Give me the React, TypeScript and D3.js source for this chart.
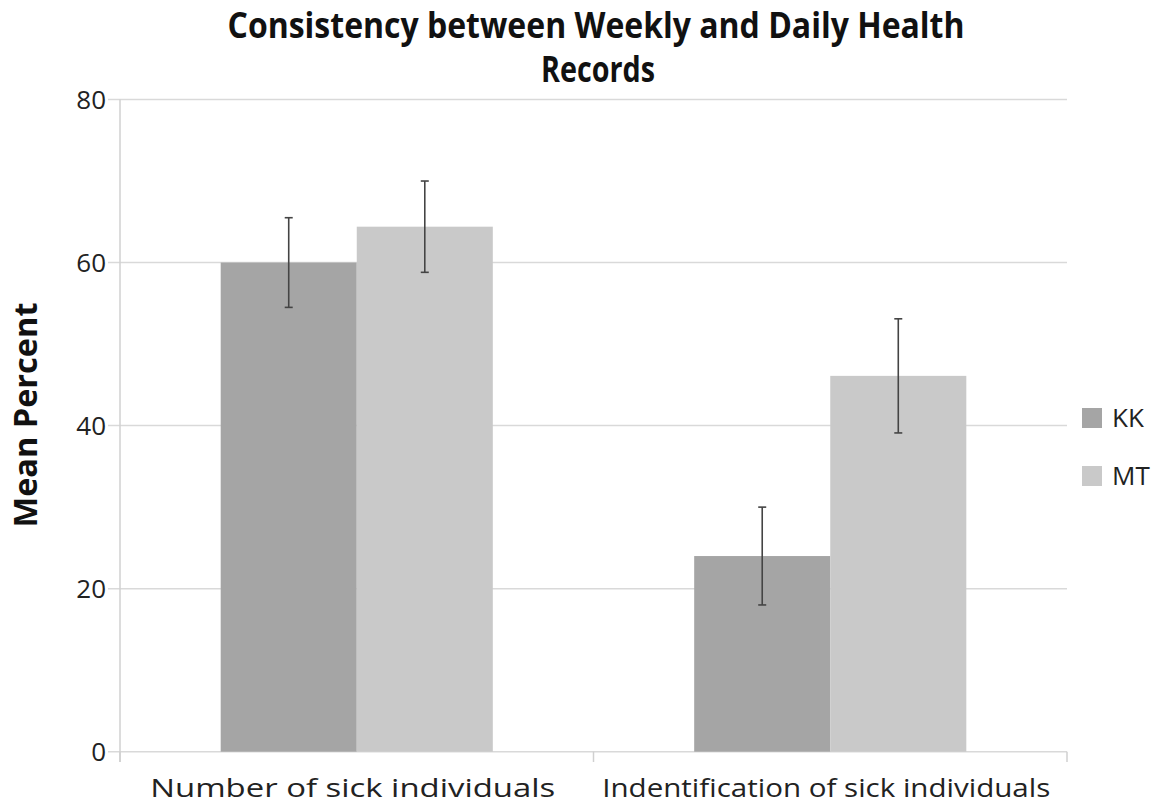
import React from "react";
import * as d3 from "d3";

const categories = ["Number of sick individuals", "Indentification of sick individuals"];
const seriesNames = ["KK", "MT"];
const kkValues = [60, 24];
const kkErrors = [5.5, 6.0];
const mtValues = [64.4, 46.1];
const mtErrors = [5.6, 7.0];
const yTicks = [0, 20, 40, 60, 80];
const titleLines = ["Consistency between Weekly and Daily Health", "Records"];
const yAxisTitle = "Mean Percent";

const colors: Record<string, string> = { KK: "#a5a5a5", MT: "#c9c9c9" };
const FONT = "'Open Sans', 'Noto Sans', sans-serif";

export default function App() {
  const W = 1175;
  const H = 812;
  const left = 120;
  const right = 1067;
  const top = 99.5;
  const bottom = 751.7;

  const y = d3.scaleLinear().domain([0, 80]).range([bottom, top]);
  const x0 = d3.scaleBand<string>().domain(categories).range([left, right]).padding(0);
  const x1 = d3
    .scaleBand<string>()
    .domain(seriesNames)
    .range([0, x0.bandwidth()])
    .paddingInner(0)
    .paddingOuter(0.74);

  const data = seriesNames.map((s) => ({
    name: s,
    values: s === "KK" ? kkValues : mtValues,
    errors: s === "KK" ? kkErrors : mtErrors,
  }));

  const labelWidths = [405, 448];

  return (
    <svg
      width={W}
      height={H}
      style={{ position: "absolute", left: 0, top: 0, background: "#fff" }}
      fontFamily={FONT}
    >
      <rect x={0} y={0} width={W} height={H} fill="#fff" />
      {/* gridlines */}
      {yTicks.map((t) => (
        <line key={"g" + t} x1={108} x2={right} y1={y(t)} y2={y(t)} stroke="#d9d9d9" strokeWidth={1.5} />
      ))}
      {/* y axis line */}
      <line x1={left} x2={left} y1={top} y2={762} stroke="#d0d0d0" strokeWidth={1.5} />
      {/* x category ticks */}
      {[...categories.map((c) => x0(c) as number), right].map((xx, i) => (
        <line key={"xt" + i} x1={xx} x2={xx} y1={bottom} y2={762} stroke="#d0d0d0" strokeWidth={1.5} />
      ))}
      {/* y tick labels */}
      {yTicks.map((t) => (
        <text key={"yl" + t} x={106} y={y(t)} dy="0.36em" textAnchor="end" fontSize={26} fill="#222">
          {t}
        </text>
      ))}
      {/* bars */}
      {data.map((s) =>
        categories.map((c, i) => {
          const bx = (x0(c) as number) + (x1(s.name) as number);
          const bw = x1.bandwidth();
          return (
            <rect
              key={s.name + c}
              x={bx}
              y={y(s.values[i])}
              width={bw}
              height={y(0) - y(s.values[i])}
              fill={colors[s.name]}
            />
          );
        })
      )}
      {/* error bars */}
      {data.map((s) =>
        categories.map((c, i) => {
          const cx = (x0(c) as number) + (x1(s.name) as number) + x1.bandwidth() / 2;
          const hi = y(s.values[i] + s.errors[i]);
          const lo = y(s.values[i] - s.errors[i]);
          return (
            <g key={"e" + s.name + c} stroke="#444" strokeWidth={1.6}>
              <line x1={cx} x2={cx} y1={hi} y2={lo} />
              <line x1={cx - 4} x2={cx + 4} y1={hi} y2={hi} />
              <line x1={cx - 4} x2={cx + 4} y1={lo} y2={lo} />
            </g>
          );
        })
      )}
      {/* x labels */}
      {categories.map((c, i) => (
        <text
          key={"xl" + c}
          x={(x0(c) as number) + x0.bandwidth() / 2 - 4}
          y={797}
          textAnchor="middle"
          fontSize={26}
          fill="#222"
          textLength={labelWidths[i]}
          lengthAdjust="spacingAndGlyphs"
        >
          {c}
        </text>
      ))}
      {/* title */}
      <text x={596} y={38} textAnchor="middle" fontSize={35} fontWeight="bold" fill="#111" textLength={737} lengthAdjust="spacingAndGlyphs">
        {titleLines[0]}
      </text>
      <text x={598} y={82} textAnchor="middle" fontSize={35} fontWeight="bold" fill="#111" textLength={114} lengthAdjust="spacingAndGlyphs">
        {titleLines[1]}
      </text>
      {/* y axis title */}
      <text
        transform={`translate(37,415) rotate(-90)`}
        textAnchor="middle"
        fontSize={33}
        fontWeight="bold"
        fill="#111"
        textLength={225}
        lengthAdjust="spacingAndGlyphs"
      >
        {yAxisTitle}
      </text>
      {/* legend */}
      {seriesNames.map((s, i) => (
        <g key={"lg" + s} transform={`translate(1082, ${408 + i * 58})`}>
          <rect x={0} y={0} width={20} height={20} fill={colors[s]} />
          <text x={30} y={10} dy="0.36em" fontSize={26} fill="#222">
            {s}
          </text>
        </g>
      ))}
    </svg>
  );
}
